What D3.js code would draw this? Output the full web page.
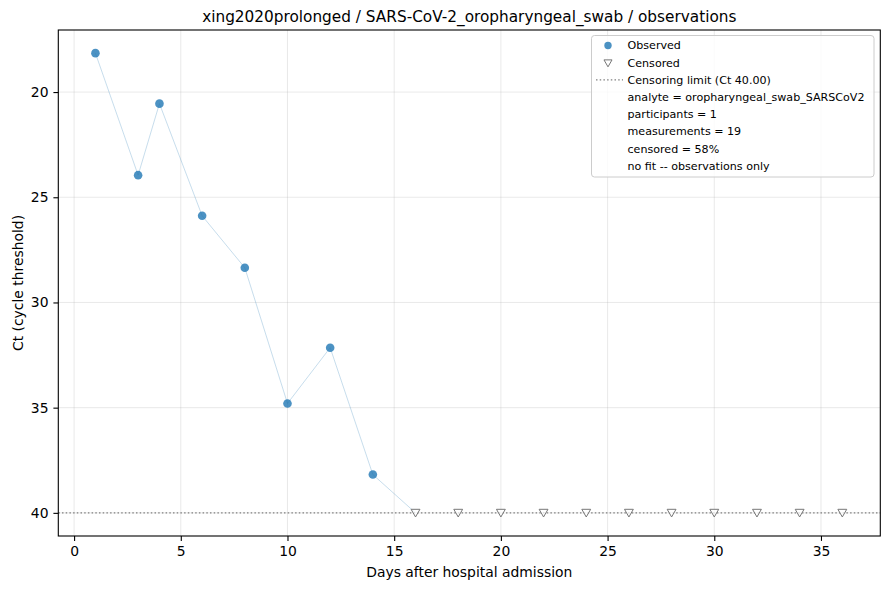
<!DOCTYPE html>
<html>
<head>
<meta charset="utf-8">
<script src="https://cdn.jsdelivr.net/npm/d3@7"></script>
<style>
  body { margin: 0; background: #fff; }
  svg { font-family: "DejaVu Sans", sans-serif; }
</style>
</head>
<body>
<div id="chart"></div>
<script>
// Data
const obsDays = [1, 3, 4, 6, 8, 10, 12, 14];
const obsCt = [18.15, 23.95, 20.55, 25.88, 28.35, 34.8, 32.15, 38.18];
const censDays = [16, 18, 20, 22, 24, 26, 28, 30, 32, 34, 36];
const censLimit = 40;
const xTicks = [0, 5, 10, 15, 20, 25, 30, 35];
const yTicks = [20, 25, 30, 35, 40];
const legendLabels = [
  "Observed",
  "Censored",
  "Censoring limit (Ct 40.00)",
  "analyte = oropharyngeal_swab_SARSCoV2",
  "participants = 1",
  "measurements = 19",
  "censored = 58%",
  "no fit -- observations only"
];

const width = 890, height = 590;
const margin = { left: 58.3, right: 890 - 880.3, top: 30, bottom: 590 - 536 };

const svg = d3.select("#chart").append("svg")
  .attr("width", width)
  .attr("height", height);

// Scales
const x = d3.scaleLinear().domain([-0.74, 37.78]).range([margin.left, width - margin.right]);
const y = d3.scaleLinear().domain([17.05, 41.1]).range([margin.top, height - margin.bottom]);

// Grid
const grid = svg.append("g").attr("stroke", "#b0b0b0").attr("stroke-opacity", 0.35).attr("stroke-width", 0.8);
grid.selectAll(".gx").data(xTicks).join("line")
  .attr("x1", d => x(d)).attr("x2", d => x(d))
  .attr("y1", margin.top).attr("y2", height - margin.bottom);
grid.selectAll(".gy").data(yTicks).join("line")
  .attr("y1", d => y(d)).attr("y2", d => y(d))
  .attr("x1", margin.left).attr("x2", width - margin.right);

// Connecting line: observed points down to the first censored one
const linePts = obsDays.map((d, i) => [d, obsCt[i]]).concat([[censDays[0], censLimit]]);
svg.append("path")
  .datum(linePts)
  .attr("fill", "none")
  .attr("stroke", "#1f77b4")
  .attr("stroke-opacity", 0.25)
  .attr("stroke-width", 1)
  .attr("d", d3.line().x(d => x(d[0])).y(d => y(d[1])));

// Censoring limit line
svg.append("line")
  .attr("x1", margin.left).attr("x2", width - margin.right)
  .attr("y1", y(censLimit)).attr("y2", y(censLimit))
  .attr("stroke", "#808080").attr("stroke-width", 1.3)
  .attr("stroke-dasharray", "1.5,2.2");

// Censored markers (down triangles)
const tri = d3.symbol().type(d3.symbolTriangle).size(34);
svg.append("g").selectAll("path").data(censDays).join("path")
  .attr("d", tri)
  .attr("transform", d => `translate(${x(d)},${y(censLimit) - 1}) rotate(180)`)
  .attr("fill", "#fff")
  .attr("fill-opacity", 0.7)
  .attr("stroke", "#777")
  .attr("stroke-width", 1);

// Observed points
svg.append("g").selectAll("circle").data(obsDays).join("circle")
  .attr("cx", d => x(d))
  .attr("cy", (d, i) => y(obsCt[i]))
  .attr("r", 4.3)
  .attr("fill", "#1f77b4")
  .attr("fill-opacity", 0.8);

// Axes
const xAxis = svg.append("g")
  .attr("transform", `translate(0,${height - margin.bottom})`)
  .call(d3.axisBottom(x).tickValues(xTicks).tickSize(4.9).tickPadding(4.9).tickSizeOuter(0));
const yAxis = svg.append("g")
  .attr("transform", `translate(${margin.left},0)`)
  .call(d3.axisLeft(y).tickValues(yTicks).tickSize(4.9).tickPadding(4.9).tickSizeOuter(0));
[xAxis, yAxis].forEach(a => {
  a.select(".domain").remove();
  a.selectAll("text").attr("font-size", 13.9).attr("fill", "#000").attr("font-family", "DejaVu Sans");
  a.selectAll("line").attr("stroke", "#000").attr("stroke-width", 1.1);
});

// Frame
svg.append("rect")
  .attr("x", margin.left).attr("y", margin.top)
  .attr("width", width - margin.left - margin.right)
  .attr("height", height - margin.top - margin.bottom)
  .attr("fill", "none").attr("stroke", "#000").attr("stroke-width", 1.1);

// Title and labels
svg.append("text")
  .attr("x", (margin.left + width - margin.right) / 2).attr("y", 21.5)
  .attr("text-anchor", "middle").attr("font-size", 15.3)
  .text("xing2020prolonged / SARS-CoV-2_oropharyngeal_swab / observations");
svg.append("text")
  .attr("x", (margin.left + width - margin.right) / 2).attr("y", 577)
  .attr("text-anchor", "middle").attr("font-size", 13.9)
  .text("Days after hospital admission");
svg.append("text")
  .attr("transform", `translate(23,${(margin.top + height - margin.bottom) / 2}) rotate(-90)`)
  .attr("text-anchor", "middle").attr("font-size", 13.9)
  .text("Ct (cycle threshold)");

// Legend
const lg = svg.append("g");
lg.append("rect")
  .attr("x", 591.5).attr("y", 35.5).attr("width", 282.5).attr("height", 141.5)
  .attr("rx", 3).attr("fill", "#fff").attr("fill-opacity", 0.8)
  .attr("stroke", "#ccc").attr("stroke-width", 1);
const rowY = i => 45.5 + i * 17.2;
lg.selectAll("text").data(legendLabels).join("text")
  .attr("x", 627.5).attr("y", (d, i) => rowY(i))
  .attr("dy", "0.35em").attr("font-size", 11.1)
  .text(d => d);
lg.append("circle").attr("cx", 608).attr("cy", rowY(0)).attr("r", 3.7)
  .attr("fill", "#1f77b4").attr("fill-opacity", 0.8);
lg.append("path").attr("d", d3.symbol().type(d3.symbolTriangle).size(28))
  .attr("transform", `translate(608,${rowY(1) - 0.5}) rotate(180)`)
  .attr("fill", "#fff").attr("stroke", "#777").attr("stroke-width", 1);
lg.append("line").attr("x1", 596).attr("x2", 623).attr("y1", rowY(2)).attr("y2", rowY(2))
  .attr("stroke", "#808080").attr("stroke-width", 1.3).attr("stroke-dasharray", "1.5,2.2");
</script>
</body>
</html>
